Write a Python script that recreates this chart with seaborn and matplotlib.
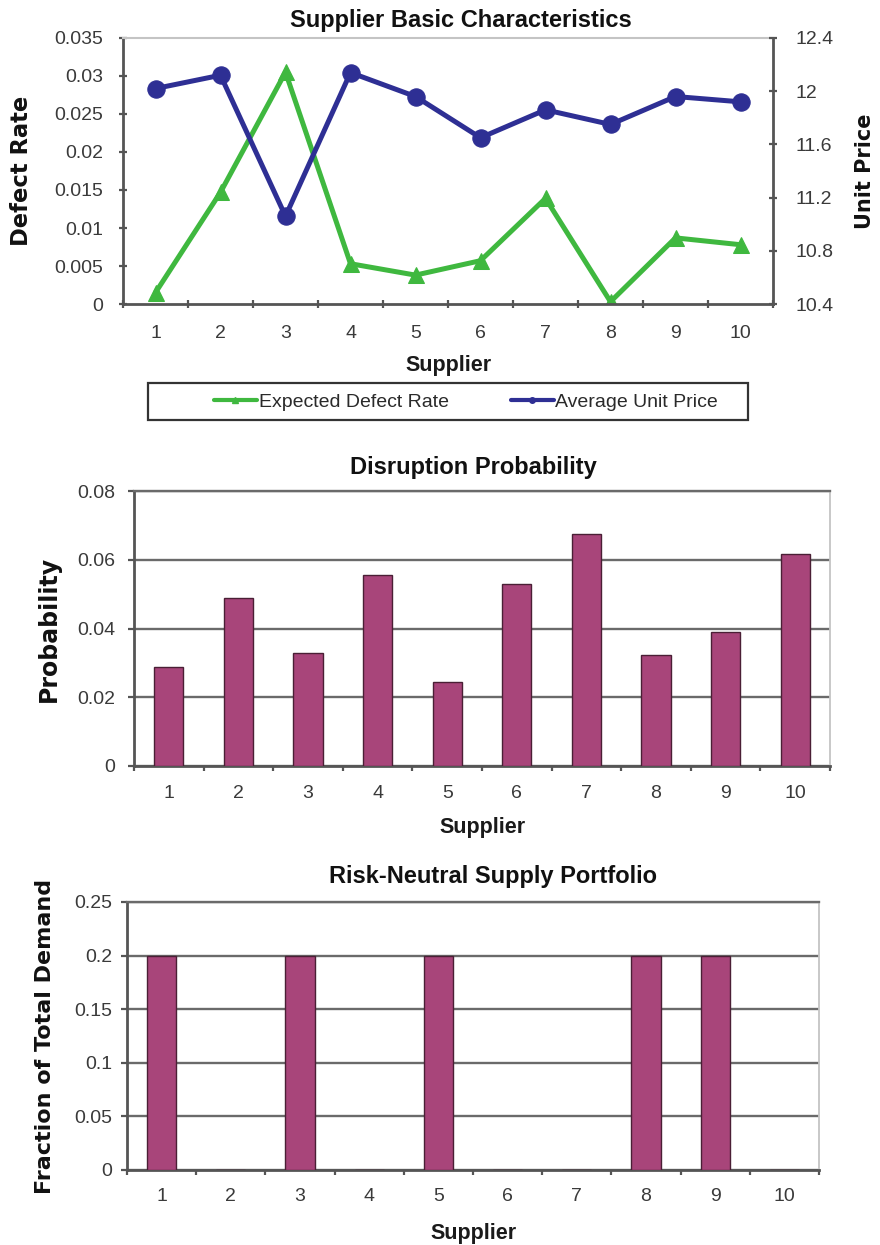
import numpy as np
import matplotlib
matplotlib.use("Agg")
import matplotlib.pyplot as plt
from matplotlib.lines import Line2D
from matplotlib.patches import Rectangle
from matplotlib.ticker import MultipleLocator, FixedLocator, FuncFormatter
import seaborn as sns

# ---- data ----
suppliers = [1, 2, 3, 4, 5, 6, 7, 8, 9, 10]
supplier_labels = [str(s) for s in suppliers]
defect_rate = [0.0015, 0.0147, 0.0305, 0.0053, 0.0038, 0.0057, 0.0139, 0.0003, 0.0087, 0.0078]
unit_price = [12.02, 12.12, 11.06, 12.14, 11.96, 11.65, 11.86, 11.75, 11.96, 11.92]
disruption_prob = [0.0289, 0.0490, 0.0330, 0.0555, 0.0243, 0.0529, 0.0676, 0.0323, 0.0390, 0.0617]
portfolio_share = [0.2, 0.0, 0.2, 0.0, 0.2, 0.0, 0.0, 0.2, 0.2, 0.0]

# ---- style ----
sns.set_style("ticks")
plt.rcParams["font.family"] = ["Liberation Sans", "DejaVu Sans"]

GREEN = "#3fb83f"
BLUE = "#2e2f94"
BAR = "#a8457a"
BAR_EDGE = "#4a1f35"
SPINE = "#555555"
GRID = "#6a6a6a"
LIGHT = "#c4c4c4"
TICK_TXT = "#3a3a3a"
PX = 0.72  # points per pixel at 100 dpi

W, H = 880, 1245
fig = plt.figure(figsize=(W / 100, H / 100), dpi=100)


def box(left, top, right, bottom):
    return [left / W, 1 - bottom / H, (right - left) / W, (bottom - top) / H]


fmt = FuncFormatter(lambda v, p: f"{v:g}")
title_kw = dict(fontsize=17, fontweight="bold", color="#111111")
xlab_kw = dict(fontsize=15.5, fontweight="bold", color="#1a1a1a")
ylab_kw = dict(fontfamily="DejaVu Sans", fontweight="bold", color="#111111")

# ================= Supplier basic characteristics =================
ax1 = fig.add_axes(box(123, 38, 773, 304))
ax1b = ax1.twinx()

sns.lineplot(x=suppliers, y=defect_rate, ax=ax1, color=GREEN, linewidth=3.6,
             marker="^", markersize=12, markeredgecolor=GREEN, legend=False)
sns.lineplot(x=suppliers, y=unit_price, ax=ax1b, color=BLUE, linewidth=3.6,
             marker="o", markersize=12.5, markeredgecolor=BLUE, legend=False)

ax1.set_xlim(0.5, 10.5)
ax1.set_ylim(0, 0.035)
ax1b.set_ylim(10.4, 12.4)
ax1.yaxis.set_major_locator(MultipleLocator(0.005))
ax1b.yaxis.set_major_locator(MultipleLocator(0.4))
ax1.yaxis.set_major_formatter(fmt)
ax1b.yaxis.set_major_formatter(fmt)
ax1.set_xticks(suppliers)
ax1.set_xticklabels(supplier_labels)
ax1.xaxis.set_minor_locator(FixedLocator(np.arange(0.5, 11, 1)))

for a in (ax1, ax1b):
    a.grid(False)
    for s in a.spines.values():
        s.set_visible(False)
ax1.spines["left"].set_visible(True)
ax1.spines["bottom"].set_visible(True)
ax1.spines["top"].set_visible(True)
ax1b.spines["right"].set_visible(True)
for s in (ax1.spines["left"], ax1.spines["bottom"], ax1b.spines["right"]):
    s.set_color(SPINE)
    s.set_linewidth(2)
ax1.spines["top"].set_color(LIGHT)
ax1.spines["top"].set_linewidth(1.5)

ax1.tick_params(axis="x", which="major", length=0, pad=21 * PX,
                labelsize=14, labelcolor=TICK_TXT)
ax1.tick_params(axis="x", which="minor", direction="inout", length=8 * PX,
                width=1.6, color=SPINE)
ax1.tick_params(axis="y", direction="inout", length=8 * PX, width=1.6,
                color=SPINE, pad=16 * PX, labelsize=14, labelcolor=TICK_TXT)
ax1b.tick_params(axis="y", direction="inout", length=8 * PX, width=1.6,
                 color=SPINE, pad=18 * PX, labelsize=14, labelcolor=TICK_TXT)

ax1.set_title("Supplier Basic Characteristics", x=0.52, pad=11 * PX, **title_kw)
ax1.set_xlabel("Supplier", labelpad=13 * PX, **xlab_kw)
ax1.set_ylabel("Defect Rate", fontsize=16.3, labelpad=21 * PX, **ylab_kw)
ax1b.set_ylabel("Unit Price", fontsize=15, labelpad=22 * PX, **ylab_kw)

# legend box below the line chart
fig.patches.append(Rectangle((148 / W, 1 - 420 / H), 600 / W, 37 / H,
                             transform=fig.transFigure, fill=False,
                             edgecolor="#333333", linewidth=1.6))
handles = [
    Line2D([], [], color=GREEN, lw=3, marker="^", markersize=4),
    Line2D([], [], color=BLUE, lw=3, marker="o", markersize=4),
]
leg = fig.legend(handles, ["Expected Defect Rate", "Average Unit Price"],
                 loc="center", ncol=2, bbox_to_anchor=(466 / W, 1 - 402 / H),
                 fontsize=14, handlelength=2.2, handletextpad=0.1,
                 columnspacing=3.2, borderpad=0.3, frameon=False)
for t in leg.get_texts():
    t.set_color("#2a2a2a")


# ================= bar chart helper =================
def bar_panel(ax, values, ymax, ystep, title, title_x, title_pad, ylabel,
              ylabel_size, ylabel_pad, ytick_gap, xtick_pad, xlabel_pad):
    sns.barplot(x=supplier_labels, y=values, order=supplier_labels, ax=ax,
                color=BAR, saturation=1, width=0.42, edgecolor=BAR_EDGE,
                linewidth=1.0, zorder=3)
    ax.set_xlim(-0.5, 9.5)
    ax.set_ylim(0, ymax)
    ax.yaxis.set_major_locator(MultipleLocator(ystep))
    ax.yaxis.set_major_formatter(fmt)
    ax.xaxis.set_minor_locator(FixedLocator(np.arange(-0.5, 10, 1)))
    ax.set_axisbelow(True)
    ax.yaxis.grid(True, color=GRID, linewidth=1.7)
    ax.xaxis.grid(False)
    for side in ("left", "bottom"):
        ax.spines[side].set_color(SPINE)
        ax.spines[side].set_linewidth(2)
    ax.spines["top"].set_visible(True)
    ax.spines["top"].set_color(GRID)
    ax.spines["top"].set_linewidth(1.7)
    ax.spines["right"].set_visible(True)
    ax.spines["right"].set_color(LIGHT)
    ax.spines["right"].set_linewidth(1.3)
    ax.tick_params(axis="x", which="major", length=0, pad=xtick_pad * PX,
                   labelsize=14, labelcolor=TICK_TXT)
    ax.tick_params(axis="x", which="minor", direction="out", length=5 * PX,
                   width=1.6, color=SPINE)
    ax.tick_params(axis="y", direction="out", length=6 * PX, width=1.6,
                   color=SPINE, pad=(ytick_gap - 6) * PX, labelsize=14,
                   labelcolor=TICK_TXT)
    ax.set_title(title, x=title_x, pad=title_pad * PX, **title_kw)
    ax.set_xlabel("Supplier", labelpad=xlabel_pad * PX, **xlab_kw)
    ax.set_ylabel(ylabel, fontsize=ylabel_size, labelpad=ylabel_pad * PX,
                  **ylab_kw)


# ================= Disruption probability =================
ax2 = fig.add_axes(box(134, 491, 830, 766))
bar_panel(ax2, disruption_prob, 0.08, 0.02, "Disruption Probability",
          0.487, 17, "Probability", 17, 16, 19, 19, 15)

# ================= Risk-neutral supply portfolio =================
ax3 = fig.add_axes(box(127, 902, 819, 1170))
bar_panel(ax3, portfolio_share, 0.25, 0.05, "Risk-Neutral Supply Portfolio",
          0.529, 19, "Fraction of Total Demand", 16, 19, 15, 18, 18)

fig.savefig("out.png", dpi=100)
